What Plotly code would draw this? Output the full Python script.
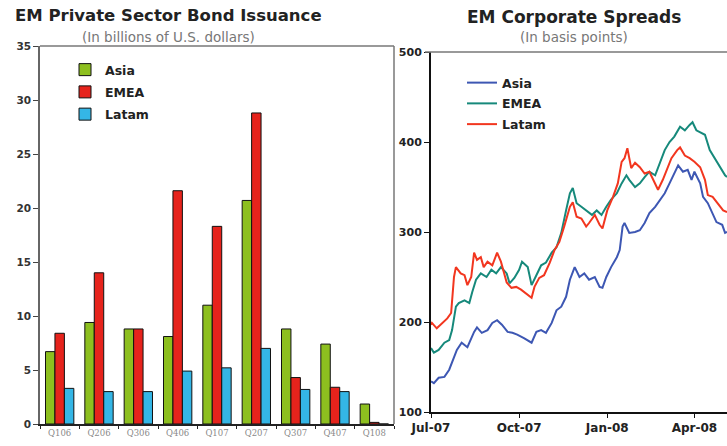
import pandas as pd
import plotly.graph_objects as go

# ---------------- Data ----------------
quarters = ["Q106", "Q206", "Q306", "Q406", "Q107", "Q207", "Q307", "Q407", "Q108"]
issuance_asia = [6.7, 9.4, 8.8, 8.1, 11.0, 20.7, 8.8, 7.4, 1.85]
issuance_emea = [8.4, 14.0, 8.8, 21.6, 18.3, 28.8, 4.3, 3.4, 0.15]
issuance_latam = [3.3, 3.0, 3.0, 4.9, 5.2, 7.0, 3.2, 3.0, 0.0]

base_date = "2007-07-01"
asia_days = [0, 3, 8, 14, 19, 24, 27, 32, 38, 45, 48, 53, 59, 64, 69, 74, 80, 85, 90, 97,
             105, 110, 115, 120, 126, 131, 136, 141, 145, 150, 155, 160, 165, 171, 176, 179,
             183, 188, 194, 197, 200, 202, 207, 213, 218, 223, 228, 234, 239, 244, 249, 254,
             258, 263, 268, 272, 275, 281, 284, 289, 294, 298, 304, 307, 309]
asia_spread = [134, 132, 138, 139, 147, 160, 169, 177, 172, 189, 194, 188, 191, 199, 202, 197,
               189, 188, 186, 182, 177, 189, 191, 188, 199, 213, 217, 228, 247, 261, 250, 254,
               247, 250, 239, 238, 250, 261, 272, 280, 306, 310, 299, 300, 302, 310, 321, 328,
               336, 343, 354, 365, 374, 367, 369, 358, 367, 354, 339, 332, 321, 311, 308, 299, 300]

emea_days = [0, 3, 8, 14, 19, 22, 26, 29, 35, 40, 43, 47, 52, 58, 63, 68, 73, 79, 82, 87,
             92, 95, 101, 105, 110, 115, 120, 126, 131, 136, 141, 145, 148, 152, 157, 162,
             168, 173, 178, 183, 188, 194, 199, 204, 207, 213, 218, 223, 228, 234, 239, 244,
             249, 254, 260, 265, 270, 273, 277, 283, 286, 291, 296, 302, 307, 309]
emea_spread = [171, 166, 169, 177, 180, 191, 217, 221, 224, 221, 233, 247, 254, 250, 258, 254,
               261, 254, 243, 249, 258, 267, 261, 241, 252, 263, 266, 277, 283, 299, 324, 343,
               349, 332, 328, 324, 319, 324, 319, 328, 336, 343, 354, 363, 358, 350, 354, 361,
               367, 363, 377, 391, 400, 406, 417, 413, 419, 422, 413, 410, 408, 391, 382, 372,
               363, 361]

latam_days = [0, 1, 6, 12, 17, 21, 24, 26, 31, 35, 38, 42, 45, 48, 52, 55, 59, 64, 69, 73,
              79, 84, 89, 94, 99, 105, 108, 113, 118, 124, 129, 134, 139, 145, 148, 152, 157,
              162, 165, 171, 176, 179, 184, 190, 195, 199, 202, 205, 209, 213, 218, 223, 228,
              234, 237, 242, 247, 251, 257, 260, 265, 270, 275, 281, 286, 289, 294, 299, 305, 309]
latam_spread = [197, 199, 193, 199, 204, 210, 250, 261, 254, 252, 241, 250, 277, 269, 272, 261,
                267, 263, 277, 267, 244, 238, 239, 236, 232, 227, 239, 249, 252, 266, 280, 289,
                306, 328, 333, 317, 315, 306, 310, 319, 308, 304, 324, 339, 354, 378, 382, 393,
                371, 377, 372, 365, 367, 354, 347, 358, 372, 382, 391, 394, 385, 382, 378, 372,
                358, 341, 339, 332, 324, 322]

bar_colors = {"Asia": "#8dbf1f", "EMEA": "#e6231c", "Latam": "#34b6e6"}
line_colors = {"Asia": "#3d57b3", "EMEA": "#16897b", "Latam": "#f2361f"}


def to_dates(days):
    return pd.to_datetime(base_date) + pd.to_timedelta(days, unit="D")


FONT = "DejaVu Sans"
fig = go.Figure()

for name, vals in [("Asia", issuance_asia), ("EMEA", issuance_emea), ("Latam", issuance_latam)]:
    fig.add_trace(go.Bar(
        x=quarters, y=vals, name=name, xaxis="x", yaxis="y",
        marker=dict(color=bar_colors[name], line=dict(color="#111", width=1)),
        legend="legend", legendgroup="bar_" + name,
    ))

for name, d, v in [("Asia", asia_days, asia_spread), ("EMEA", emea_days, emea_spread),
                   ("Latam", latam_days, latam_spread)]:
    fig.add_trace(go.Scatter(
        x=to_dates(d), y=v, name=name, mode="lines", xaxis="x2", yaxis="y2",
        line=dict(color=line_colors[name], width=2), legend="legend2",
        legendgroup="line_" + name,
    ))

W, H = 727, 446
def px(x):
    return x / W
def py(y):
    return (H - y) / H

fig.update_layout(
    width=W, height=H,
    margin=dict(l=0, r=0, t=0, b=0),
    paper_bgcolor="white", plot_bgcolor="white",
    barmode="group", bargap=0.28, bargroupgap=0,
    font=dict(family=FONT, color="#222"),
    xaxis=dict(domain=[px(40), px(394)], anchor="y", type="category",
               showline=True, linecolor="#222", linewidth=1.5,
               ticks="outside", tickson="boundaries", ticklen=3, tickcolor="#222",
               tickfont=dict(family="DejaVu Serif", size=8.5, color="#8a8a8a"),
               showgrid=False, automargin=False, fixedrange=True),
    yaxis=dict(domain=[py(424), py(46)], anchor="x", range=[0, 35], dtick=5,
               showline=True, linecolor="#666", linewidth=1.5,
               ticks="outside", ticklen=5, tickcolor="#444",
               tickfont=dict(family=FONT, size=10.5, color="#333", weight="bold"),
               showgrid=False, zeroline=False, automargin=False),
    xaxis2=dict(domain=[px(431), 1.0], anchor="y2", type="date",
                range=["2007-07-01", "2008-05-05"], tick0="2007-07-01", dtick="M3",
                tickformat="%b-%y", showline=True, linecolor="#111", linewidth=2,
                ticks="outside", ticklen=4, tickcolor="#111",
                tickfont=dict(family=FONT, size=12, color="#222", weight="bold"),
                showgrid=False, automargin=False),
    yaxis2=dict(domain=[py(412), py(52)], anchor="x2", range=[100, 500], dtick=100,
                showline=True, linecolor="#111", linewidth=2,
                ticks="outside", ticklen=5, tickcolor="#111",
                tickfont=dict(family=FONT, size=11, color="#222", weight="bold"),
                showgrid=False, zeroline=False, automargin=False),
    legend=dict(x=px(65), y=py(55), xanchor="left", yanchor="top",
                bgcolor="rgba(0,0,0,0)", font=dict(family=FONT, size=12.5, color="#222", weight="bold"),
                itemwidth=30, tracegroupgap=3, traceorder="grouped"),
    legend2=dict(x=px(462), y=py(68), xanchor="left", yanchor="top",
                 bgcolor="rgba(0,0,0,0)", font=dict(family=FONT, size=12.5, color="#222", weight="bold"),
                 itemwidth=30, tracegroupgap=1.5, traceorder="grouped"),
    showlegend=True,
    shapes=[
        dict(type="line", xref="paper", yref="paper", x0=px(40), x1=px(394), y0=py(46), y1=py(46),
             line=dict(color="#777", width=1.5)),
        dict(type="line", xref="paper", yref="paper", x0=px(394), x1=px(394), y0=py(46), y1=py(424),
             line=dict(color="#777", width=1.5)),
        dict(type="line", xref="paper", yref="paper", x0=px(425), x1=1.0, y0=py(52), y1=py(52),
             line=dict(color="#777", width=1.5)),
    ],
    annotations=[
        dict(text="<b>EM Private Sector Bond Issuance</b>", x=px(168), y=py(16), xref="paper", yref="paper",
             showarrow=False, font=dict(family=FONT, size=16.5, color="#222"), xanchor="center", yanchor="middle"),
        dict(text="(In billions of U.S. dollars)", x=px(168), y=py(37), xref="paper", yref="paper",
             showarrow=False, font=dict(family=FONT, size=13.5, color="#777"), xanchor="center", yanchor="middle"),
        dict(text="<b>EM Corporate Spreads</b>", x=px(574), y=py(17), xref="paper", yref="paper",
             showarrow=False, font=dict(family=FONT, size=17, color="#222"), xanchor="center", yanchor="middle"),
        dict(text="(In basis points)", x=px(574), y=py(37), xref="paper", yref="paper",
             showarrow=False, font=dict(family=FONT, size=13.5, color="#777"), xanchor="center", yanchor="middle"),
    ],
)

fig.write_html(
    "out.html",
    config={"displayModeBar": False},
    post_script="document.body.style.margin='0';document.body.style.overflow='hidden';",
)
